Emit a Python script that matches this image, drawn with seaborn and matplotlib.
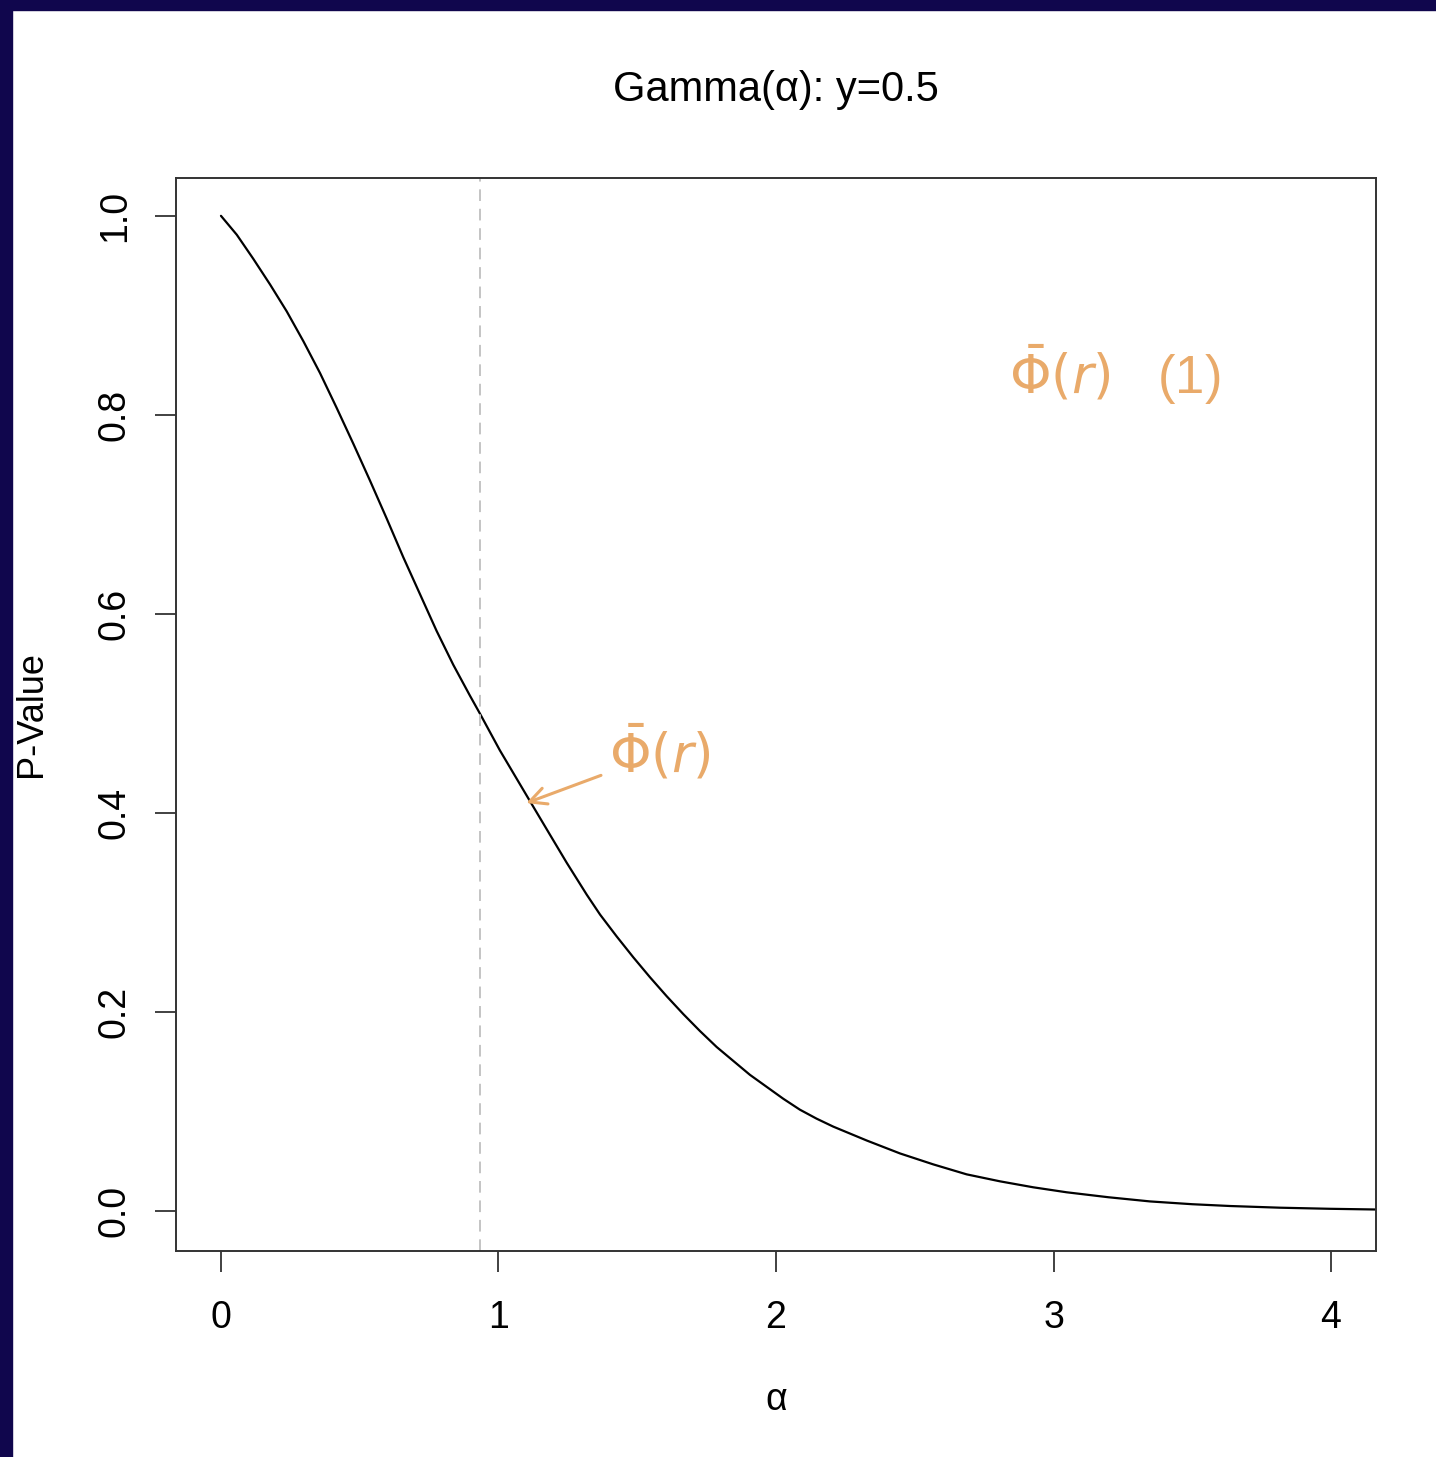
import matplotlib
matplotlib.use("Agg")
import matplotlib.pyplot as plt
import matplotlib.patches as mpatches
import seaborn as sns
import pandas as pd

# ---- data ----
alpha_vals = [0.0, 0.057, 0.116, 0.177, 0.237, 0.297, 0.357, 0.417, 0.477, 0.537,
              0.597, 0.657, 0.717, 0.777, 0.837, 0.897, 0.933, 1.005, 1.107, 1.186,
              1.246, 1.318, 1.366, 1.426, 1.486, 1.546, 1.606, 1.666, 1.726, 1.786,
              1.846, 1.906, 1.966, 2.026, 2.086, 2.146, 2.206, 2.327, 2.447, 2.567,
              2.687, 2.807, 2.927, 3.047, 3.198, 3.348, 3.500, 3.636, 3.816, 3.996, 4.16]
p_values = [1.000, 0.981, 0.957, 0.931, 0.904, 0.874, 0.842, 0.807, 0.771, 0.734,
            0.696, 0.657, 0.620, 0.583, 0.549, 0.518, 0.500, 0.463, 0.415, 0.378,
            0.350, 0.318, 0.298, 0.276, 0.255, 0.235, 0.216, 0.198, 0.181, 0.165,
            0.151, 0.137, 0.125, 0.113, 0.102, 0.093, 0.085, 0.071, 0.058, 0.047,
            0.037, 0.030, 0.024, 0.019, 0.014, 0.0098, 0.0070, 0.0052, 0.0035, 0.0024, 0.0017]
vline_x = 0.933
x_ticks = [0, 1, 2, 3, 4]
y_ticks = [0.0, 0.2, 0.4, 0.6, 0.8, 1.0]
title = "Gamma(α): y=0.5"
xlabel = "α"
ylabel = "P-Value"
note1 = r"$\bar{\Phi}(r)$"
note2 = r"$\bar{\Phi}(r)$   (1)"

sns.set_style("white")
plt.rcParams['font.family'] = ['Liberation Sans', 'DejaVu Sans']
plt.rcParams['text.color'] = 'black'
plt.rcParams['axes.labelcolor'] = 'black'

W, H = 1436, 1457
fig = plt.figure(figsize=(W / 100, H / 100), dpi=100, facecolor="white")
ax = fig.add_axes([176 / W, 1 - 1251 / H, 1200 / W, 1073 / H])

df = pd.DataFrame({"alpha": alpha_vals, "p": p_values})
sns.lineplot(data=df, x="alpha", y="p", ax=ax, color="black", lw=1.6,
             estimator=None, sort=False)
ax.axvline(vline_x, color="#c4c4c4", lw=1.4, ls=(0, (6, 4)))

ax.set_xlim(-0.162, 4.162)
ax.set_ylim(-0.040, 1.038)
ax.set_xticks(x_ticks)
ax.set_xticklabels([str(t) for t in x_ticks])
ax.set_yticks(y_ticks)
ax.set_yticklabels([f"{t:.1f}" for t in y_ticks], rotation=90, va="center")

for s in ax.spines.values():
    s.set_visible(True)
    s.set_color("#333333")
    s.set_linewidth(1.4)

ax.tick_params(axis="both", direction="out", length=15, width=1.3, color="#333333",
               labelsize=27, labelcolor="black", bottom=True, left=True,
               top=False, right=False)
ax.tick_params(axis="x", pad=20)
ax.tick_params(axis="y", pad=16)
ax.grid(False)

ax.set_xlabel(xlabel, fontsize=27)
ax.set_ylabel(ylabel, fontsize=26)
ax.xaxis.set_label_coords(0.5, -0.139)
ax.xaxis.label.set_va("center")
ax.yaxis.set_label_coords(-0.12, 0.5)
ax.yaxis.label.set_va("center")

ax.set_title(title, fontsize=30, y=(1251 - 90) / 1073, va="center", pad=0)

orange = "#e9aa6a"
ax.annotate(note1, xy=(1.10, 0.41), xytext=(1.40, 0.46),
            fontsize=38, color=orange, va="center", ha="left",
            arrowprops=dict(arrowstyle="->", color=orange, lw=2.2, mutation_scale=30,
                            shrinkA=4, shrinkB=0))
ax.text(2.84, 0.84, note2, fontsize=38, color=orange, va="center", ha="left")

# dark border of the slide
navy = "#10064d"
fig.patches.append(mpatches.Rectangle((0, 1 - 10 / H), 1, 10 / H, transform=fig.transFigure,
                                      color=navy, zorder=10))
fig.patches.append(mpatches.Rectangle((0, 0), 12 / W, 1, transform=fig.transFigure,
                                      color=navy, zorder=10))

fig.savefig("out.png", dpi=100, facecolor="white")
